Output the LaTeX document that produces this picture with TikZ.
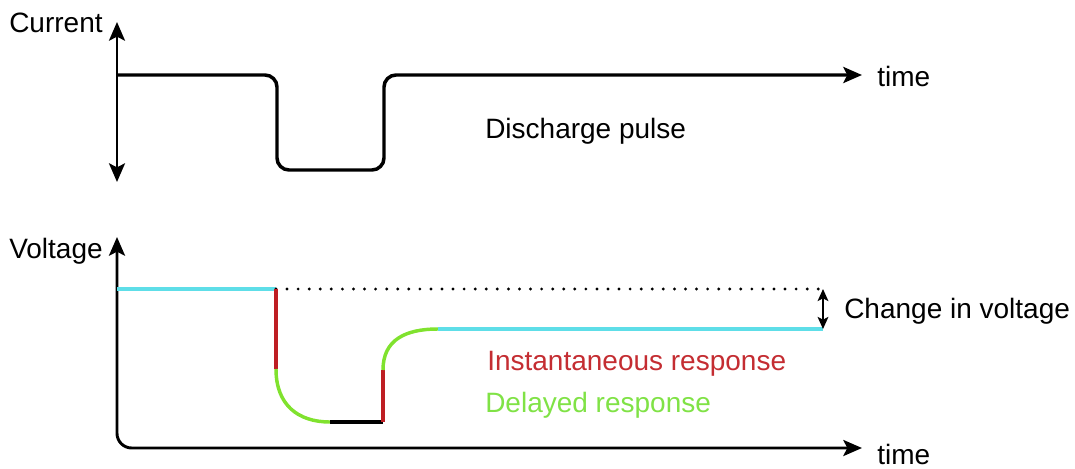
\documentclass[tikz,border=0pt]{standalone}
\usepackage{fontspec}
\setmainfont{Liberation Sans}
\usetikzlibrary{arrows.meta}

\definecolor{steadyc}{RGB}{94,222,232}
\definecolor{instc}{RGB}{190,30,35}
\definecolor{delayc}{RGB}{128,226,46}
\definecolor{insttext}{RGB}{196,45,50}
\definecolor{delaytext}{RGB}{128,226,70}

\tikzset{
  axis/.style={line width=2.3pt, -{Stealth[length=14pt,width=12pt,inset=3pt]}},
  axis2/.style={line width=1.9pt, {Stealth[length=14pt,width=12pt,inset=3pt]}-{Stealth[length=14pt,width=12pt,inset=3pt]}},
  lbl/.style={anchor=west, inner sep=0.75pt, font=\fontsize{21}{24}\selectfont},
  steady/.style={steadyc, line width=3pt},
  inst/.style={instc, line width=2.6pt},
  delay/.style={delayc, line width=2.6pt},
}

\begin{document}
\begin{tikzpicture}[x=0.75pt,y=0.75pt,yscale=-1,xscale=1]
\useasboundingbox (0,0) rectangle (1075,468);

%Current plot
\coordinate (ctop) at (117,22);
\coordinate (cbot) at (117,182);
\coordinate (corig) at (117,75);
\coordinate (cend) at (862,75);
\draw [axis2] (ctop) -- (cbot) ;
\draw [axis, line width=2.6pt, rounded corners=9] (corig) -- (277,75) -- (277,170) -- (384,170) -- (384,75) -- (cend) ;

% Text Node
\draw (8,23) node [lbl] (curlbl) {Current};
% Text Node
\draw (876,76) node [lbl] (ctime) {time};
% Text Node
\draw (484,131) node [lbl] (pulse) {Discharge pulse};

%Voltage plot
\coordinate (vtop) at (117,237);
\coordinate (vend) at (862,448);
\draw [axis2, line width=2.2pt, rounded corners=11] (vend) -- (117,448) -- (vtop) ;

\coordinate (v0) at (117,289);
\coordinate (drop) at (276,289);
\coordinate (dropend) at (276,369);
\coordinate (low) at (330,422);
\coordinate (rise) at (383,422);
\coordinate (riseend) at (383,370);
\coordinate (settle) at (438,329);
\coordinate (vfin) at (823,329);
\coordinate (vref) at (823,289);

\draw [steady] (v0) -- (drop) ;
\draw [line width=2.4pt, dash pattern=on 0pt off 8.3pt, line cap=round] (drop) -- (vref) ;
\draw [inst] (drop) -- (dropend) ;
\draw [delay] (dropend) .. controls (276,405) and (298,422) .. (low) ;
\draw [line width=2.6pt] (low) -- (rise) ;
\draw [inst] (rise) -- (riseend) ;
\draw [delay] (riseend) .. controls (383,340) and (405,329) .. (settle) ;
\draw [steady] (settle) -- (vfin) ;
\draw [line width=1.5pt, {Stealth[length=9pt,width=8pt,inset=2pt]}-{Stealth[length=9pt,width=8pt,inset=2pt]}] (vref) -- (vfin) ;

% Text Node
\draw (8,251) node [lbl] (voltlbl) {Voltage};
% Text Node
\draw (876,454) node [lbl] (vtime) {time};
% Text Node
\draw (843,311) node [lbl] (dv) {Change in voltage};
% Text Node
\draw (486,364) node [lbl, text=insttext] (instlbl) {Instantaneous response};
% Text Node
\draw (484,405) node [lbl, text=delaytext] (delaylbl) {Delayed response};

\end{tikzpicture}
\end{document}
